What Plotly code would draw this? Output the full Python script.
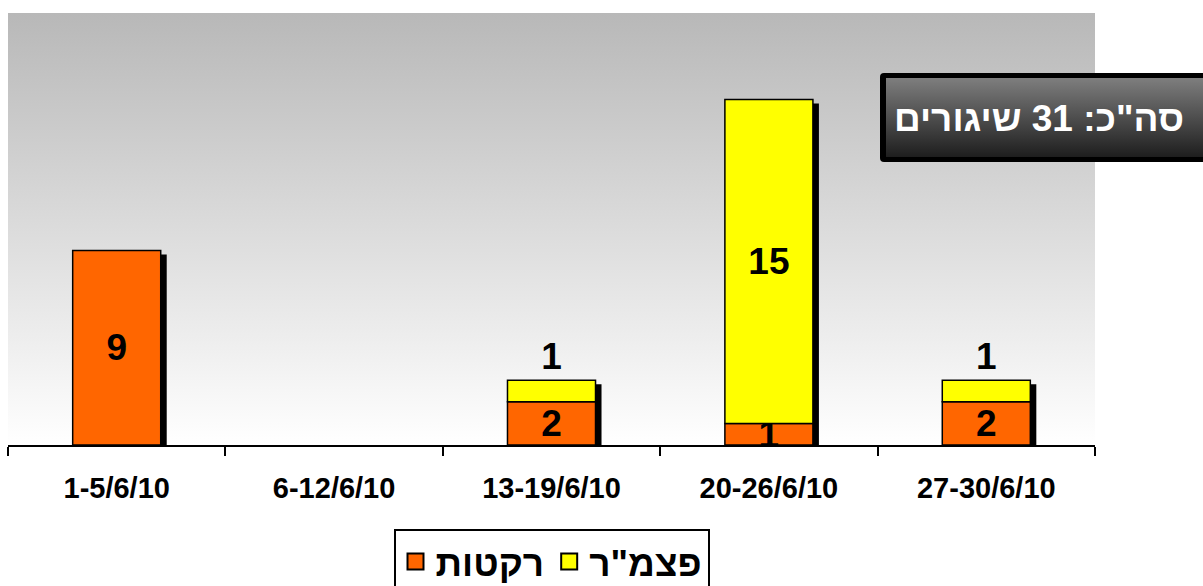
import base64
import plotly.graph_objects as go

# ---- data ----
categories = ["1-5/6/10", "6-12/6/10", "13-19/6/10", "20-26/6/10", "27-30/6/10"]
rockets = [9, 0, 2, 1, 2]
mortars = [0, 0, 1, 15, 1]
rocket_name = "רקטות"
mortar_name = 'פצמ"ר'
total = sum(rockets) + sum(mortars)
total_label = f'סה"כ: {total} שיגורים'

# ---- style ----
FONT = "Liberation Sans, Arial, sans-serif"
ORANGE = "#FF6600"
YELLOW = "#FFFF00"
W, H = 1203, 586
ML, MT = 8, 13
plot_w, plot_h = 1087, 432
MR = W - ML - plot_w
MB = H - MT - plot_h
YMAX = 20
BAR_W = 0.405
px_x = len(categories) / plot_w
px_y = YMAX / plot_h
SH_DX, SH_DY = 6, 4


def paper_x(px):
    return (px - ML) / plot_w


def paper_y(py):
    return (MT + plot_h - py) / plot_h


def svg_uri(svg):
    return "data:image/svg+xml;base64," + base64.b64encode(svg.encode("utf-8")).decode()


bg_svg = ('<svg xmlns="http://www.w3.org/2000/svg" width="100" height="100" viewBox="0 0 100 100" '
          'preserveAspectRatio="none"><defs><linearGradient id="g" x1="0" y1="0" x2="0" y2="1">'
          '<stop offset="0" stop-color="#B8B8B8"/><stop offset="1" stop-color="#FFFFFF"/>'
          '</linearGradient></defs><rect width="100" height="100" fill="url(#g)"/></svg>')

BOX_W, BOX_H = 420, 89
box_svg = (f'<svg xmlns="http://www.w3.org/2000/svg" width="{BOX_W}" height="{BOX_H}" '
           f'viewBox="0 0 {BOX_W} {BOX_H}" preserveAspectRatio="none"><defs>'
           '<linearGradient id="b" x1="0" y1="0" x2="0" y2="1">'
           '<stop offset="0" stop-color="#7E7E7E"/><stop offset="1" stop-color="#1E1E1E"/>'
           '</linearGradient></defs>'
           f'<rect x="0" y="0" width="{BOX_W}" height="{BOX_H}" rx="4" fill="#000"/>'
           f'<rect x="6" y="5" width="{BOX_W-12}" height="{BOX_H-10}" fill="url(#b)"/></svg>')

totals = [r + m for r, m in zip(rockets, mortars)]
rocket_text = [str(v) if v else "" for v in rockets]
mortar_text = [str(v) if v else "" for v in mortars]
mortar_pos = ["outside" if v <= 2 else "inside" for v in mortars]
rocket_lw = [1.5 if v else 0 for v in rockets]
mortar_lw = [1.5 if v else 0 for v in mortars]

fig = go.Figure()

# shadow
fig.add_trace(go.Bar(
    x=categories, y=totals, base=[-SH_DY * px_y] * len(totals),
    width=BAR_W, offset=-BAR_W / 2 + SH_DX * px_x,
    marker=dict(color="#000000", line=dict(width=0)),
    showlegend=False, hoverinfo="skip",
))

fig.add_trace(go.Bar(
    x=categories, y=rockets, name=rocket_name, width=BAR_W,
    marker=dict(color=ORANGE, line=dict(color="#000000", width=rocket_lw)),
    text=rocket_text, textposition="inside", insidetextanchor="middle", textangle=0,
    insidetextfont=dict(family=FONT, size=37, color="#000000", weight="bold"),
    showlegend=False,
))

fig.add_trace(go.Bar(
    x=categories, y=mortars, base=rockets, name=mortar_name, width=BAR_W,
    marker=dict(color=YELLOW, line=dict(color="#000000", width=mortar_lw)),
    text=mortar_text, textposition=mortar_pos, insidetextanchor="middle", textangle=0,
    insidetextfont=dict(family=FONT, size=37, color="#000000", weight="bold"),
    outsidetextfont=dict(family=FONT, size=37, color="#000000", weight="bold"),
    cliponaxis=False,
    showlegend=False,
))

# legend entries
for nm, col in [(rocket_name, ORANGE), (mortar_name, YELLOW)]:
    fig.add_trace(go.Scatter(
        x=[None], y=[None], mode="markers", name=nm,
        marker=dict(symbol="square", size=16, color=col, line=dict(color="#000000", width=2)),
    ))

fig.update_layout(
    width=W, height=H,
    margin=dict(l=ML, r=MR, t=MT, b=MB, pad=0, autoexpand=False),
    barmode="overlay",
    paper_bgcolor="#FFFFFF",
    plot_bgcolor="rgba(0,0,0,0)",
    font=dict(family=FONT, color="#000000"),
    uniformtext=dict(minsize=37, mode="show"),
    showlegend=True,
    legend=dict(
        orientation="h", x=0.5, xanchor="center",
        y=paper_y(529), yanchor="top",
        bordercolor="#000000", borderwidth=2, bgcolor="#FFFFFF",
        font=dict(family=FONT, size=37, color="#000000", weight="bold"),
        traceorder="normal",
    ),
    xaxis=dict(
        type="category", range=[-0.5, len(categories) - 0.5],
        showline=True, linecolor="#000000", linewidth=2,
        ticks="outside", tickson="boundaries", ticklen=9, tickwidth=1.5, tickcolor="#000000",
        tickfont=dict(family=FONT, size=29, color="#000000", weight="bold"),
        ticklabelstandoff=16,
        showgrid=False, zeroline=False, fixedrange=True,
    ),
    yaxis=dict(
        range=[0, YMAX], visible=False, showgrid=False, zeroline=False, fixedrange=True,
    ),
    images=[
        dict(source=svg_uri(bg_svg), xref="paper", yref="paper", x=0, y=1,
             sizex=1, sizey=1, sizing="stretch", xanchor="left", yanchor="top", layer="below"),
        dict(source=svg_uri(box_svg), xref="paper", yref="paper",
             x=paper_x(880), y=paper_y(73),
             sizex=BOX_W / plot_w, sizey=BOX_H / plot_h, sizing="stretch",
             xanchor="left", yanchor="top", layer="above"),
    ],
    annotations=[
        dict(text=total_label, xref="paper", yref="paper",
             x=paper_x(1039), y=paper_y(118),
             xanchor="center", yanchor="middle", showarrow=False,
             font=dict(family=FONT, size=37, color="#FFFFFF", weight="bold")),
    ],
)

fig.write_html(
    "out.html",
    config={"displayModeBar": False},
    post_script="document.body.style.margin='0';document.body.style.overflow='hidden';",
)
